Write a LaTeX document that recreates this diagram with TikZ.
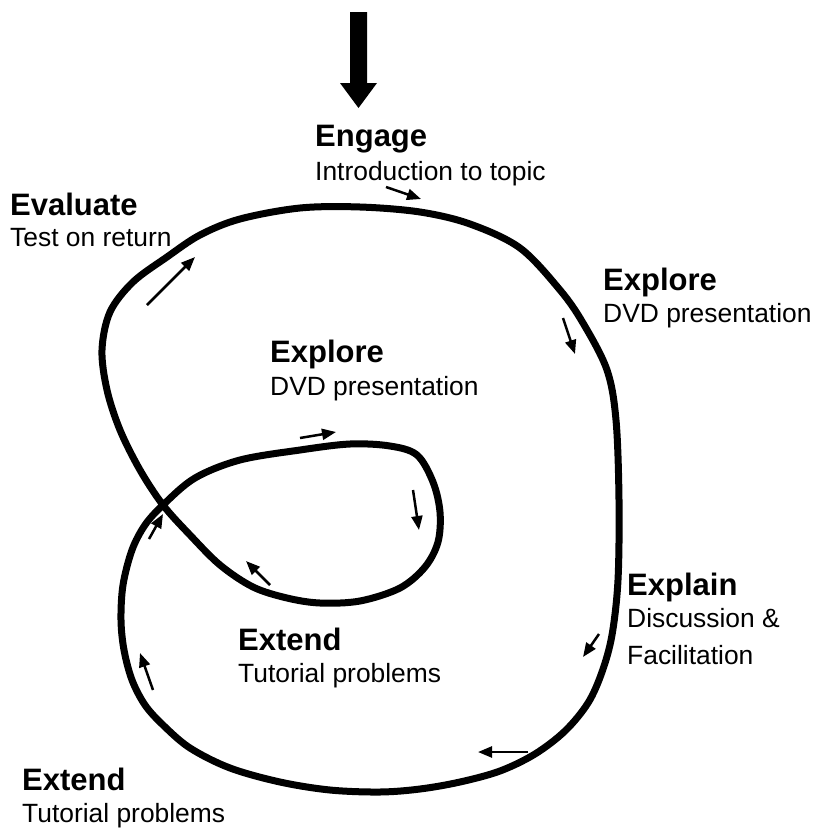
\documentclass[tikz,border=0pt]{standalone}
\usepackage{fontspec}
\setmainfont{Liberation Sans}
\usetikzlibrary{arrows.meta}

\begin{document}
\begin{tikzpicture}[x=1pt, y=-1pt,
  head/.style={anchor=base west, inner sep=0pt, font=\fontsize{31}{36}\selectfont\bfseries},
  body/.style={anchor=base west, inner sep=0pt, font=\fontsize{26.4}{32}\selectfont},
  flow/.style={line width=2.5pt, -{Triangle[length=14pt,width=11pt]}}]
  \useasboundingbox (0,0) rectangle (813,830);

  % entry arrow
  \fill (350,12) -- (367,12) -- (367,83) -- (377,83) -- (358.5,108) -- (340,83) -- (350,83) -- cycle;

  % the learning loop
  \draw[line width=7pt, line join=round] plot[smooth cycle, tension=0.55] coordinates {
    (167,257) (200,235) (240,219) (300,208) (360,207) (420,212) (470,224)
    (520,248) (560,290) (583,323) (607,370) (616,420) (619,500) (618,580)
    (612,635) (602,672) (588,703) (565,731) (535,754) (500,771) (460,782)
    (420,789) (380,792) (330,790) (280,782) (230,768) (190,748) (163,725)
    (145,705) (132,680) (124,650) (121,620) (123,585) (132,550) (145,525)
    (163,505) (195,478) (240,460) (300,450) (350,444) (390,446) (417,455)
    (433,482) (440,512) (438,542) (425,567) (400,588) (360,601) (320,603)
    (287,598) (253,587) (220,565) (190,535) (163,505) (140,470) (120,430)
    (107,390) (102,350) (110,312) (133,282)};

  % stages
  \node[head] (engage) at (315,146) {Engage};
  \node[body] (engagetxt) at (315,180) {Introduction to topic};
  \node[head] (evaluate) at (10,215) {Evaluate};
  \node[body] (evaluatetxt) at (10,246) {Test on return};
  \node[head] (explore) at (603,290) {Explore};
  \node[body] (exploretxt) at (603,322) {DVD presentation};
  \node[head] (exploreb) at (270,362) {Explore};
  \node[body] (explorebtxt) at (270,395) {DVD presentation};
  \node[head] (explain) at (627,595) {Explain};
  \node[body] (explaintxt) at (627,627) {Discussion \&};
  \node[body] (explaintxtb) at (627,664) {Facilitation};
  \node[head] (extendb) at (238,650) {Extend};
  \node[body] (extendbtxt) at (238,682) {Tutorial problems};
  \node[head] (extend) at (22,790) {Extend};
  \node[body] (extendtxt) at (22,822) {Tutorial problems};

  % direction of travel
  \foreach \xa/\ya/\xb/\yb in {147/305/195/257, 386/187/421/199, 563/318/575/354,
      300/438/336/432, 413/490/419/530, 270/585/246/561, 149/539/163/514,
      153/690/140/653, 528/752/478/752, 599/634/583/657}
    \draw[flow] (\xa,\ya) -- (\xb,\yb);
\end{tikzpicture}
\end{document}
